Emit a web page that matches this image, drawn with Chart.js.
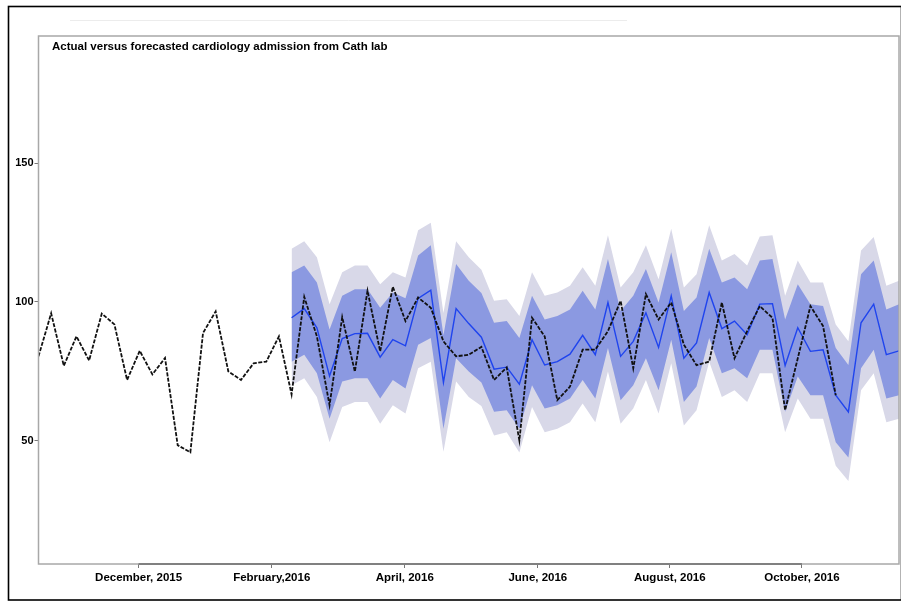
<!DOCTYPE html>
<html>
<head>
<meta charset="utf-8">
<title>Actual versus forecasted cardiology admission from Cath lab</title>
<script src="https://cdn.jsdelivr.net/npm/chart.js@4.4.0/dist/chart.umd.min.js"></script>
<style>
  html, body { margin: 0; padding: 0; background: #fff; }
  canvas { display: block; }
</style>
</head>
<body>
<canvas id="cathChart" width="901" height="602"></canvas>
<script>
// ===== data (index = period number, forecast starts at period 20) =====
const chartTitle = "Actual versus forecasted cardiology admission from Cath lab";

const monthLabels = ["December, 2015", "February,2016", "April, 2016", "June, 2016", "August, 2016", "October, 2016"];
const monthTickPos = [7.91, 18.43, 28.94, 39.46, 49.89, 60.33];
const yTickValues = [50, 100, 150];

const actualStart = 0;
const actualValues = [
  80.4, 95.9, 77.0, 87.6, 78.9, 95.8, 91.9, 71.9, 82.4, 73.9,
  79.8, 48.4, 45.8, 88.8, 96.6, 75.0, 71.9, 77.9, 78.5, 87.6,
  66.7, 101.8, 87.6, 62.8, 94.5, 74.9, 104.0, 82.2, 105.5, 93.1,
  101.6, 97.9, 85.8, 80.4, 81.0, 83.8, 71.9, 76.4, 50.1, 94.3,
  87.6, 64.6, 69.5, 82.8, 82.8, 89.5, 100.4, 76.1, 102.8, 93.7,
  99.8, 84.6, 77.2, 78.5, 99.8, 79.7, 89.5, 98.5, 94.3, 61.0,
  79.7, 98.5, 91.3, 66.4
];

const forecastStart = 20;
const forecastValues = [
  94.3, 97.6, 90.7, 73.3, 86.8, 88.6, 88.7, 80.1, 86.4, 84.2,
  101.3, 104.2, 71.0, 97.6, 92.2, 87.3, 75.8, 76.5, 70.4, 86.4,
  77.3, 78.5, 81.2, 88.0, 81.0, 99.8, 80.4, 85.8, 96.1, 83.6,
  102.2, 79.7, 85.2, 103.4, 90.4, 93.1, 88.2, 99.2, 99.4, 77.1,
  90.7, 82.2, 82.8, 66.4, 60.4, 92.5, 99.2, 81.0, 82.4
];
const upper80 = [
  110.7, 113.1, 107.0, 90.1, 102.2, 104.6, 104.6, 97.9, 103.4, 101.3,
  116.7, 120.4, 88.0, 113.7, 107.6, 103.2, 92.5, 93.1, 87.0, 102.2,
  93.7, 94.9, 97.3, 104.0, 97.3, 115.5, 96.7, 102.2, 111.9, 99.8,
  117.9, 96.7, 101.6, 119.2, 107.0, 108.8, 104.6, 114.9, 115.5, 93.7,
  106.4, 99.2, 98.5, 83.4, 77.3, 110.0, 114.9, 97.3, 99.2
];
const lower80 = [
  78.5, 81.0, 74.3, 57.9, 71.3, 72.5, 72.5, 65.2, 71.9, 68.8,
  84.6, 87.0, 54.3, 79.7, 74.9, 71.0, 60.4, 61.0, 54.3, 70.0,
  61.6, 62.8, 65.2, 71.9, 65.2, 83.4, 64.6, 70.0, 79.7, 68.2,
  86.4, 64.0, 69.5, 87.0, 74.3, 76.1, 72.5, 82.8, 82.8, 60.4,
  73.1, 66.4, 66.4, 49.5, 44.0, 76.1, 82.8, 65.2, 66.4
];
const upper95 = [
  119.2, 121.9, 116.1, 99.2, 110.7, 113.1, 113.1, 106.4, 110.7, 108.8,
  125.8, 128.5, 96.0, 121.9, 116.1, 111.6, 100.4, 101.0, 94.9, 110.7,
  102.2, 103.4, 105.8, 112.5, 105.8, 124.0, 105.2, 110.7, 120.4, 108.2,
  126.4, 105.2, 110.0, 127.6, 114.9, 117.3, 113.1, 123.6, 124.0, 102.2,
  114.9, 107.0, 107.0, 91.9, 85.8, 118.5, 123.4, 105.8, 107.6
];
const lower95 = [
  70.0, 72.5, 65.8, 49.5, 62.2, 64.0, 64.0, 56.1, 62.8, 59.8,
  76.1, 78.5, 46.0, 71.3, 65.8, 62.5, 51.9, 53.1, 45.8, 62.2,
  53.1, 54.3, 56.7, 63.4, 56.7, 74.9, 56.1, 61.6, 71.9, 59.8,
  77.9, 55.5, 61.0, 78.5, 65.8, 68.2, 64.0, 74.3, 74.3, 53.1,
  65.2, 57.9, 57.9, 41.0, 35.5, 68.2, 74.3, 56.7, 57.9
];

// ===== helpers =====
function toPoints(values, start) {
  return values.map((v, i) => ({ x: start + i, y: v }));
}

const FONT = '"Liberation Sans", Arial, Helvetica, sans-serif';

// frame, outer border and title drawn on the canvas
const framePlugin = {
  id: "framePlugin",
  beforeDraw(chart) {
    const c = chart.ctx;
    c.save();
    c.fillStyle = "#fff";
    c.fillRect(0, 0, chart.width, chart.height);
    // outer black border
    c.strokeStyle = "#000";
    c.lineWidth = 1.6;
    c.strokeRect(8.5, 6.5, 893, 593.5);
    // faint line near the top
    c.strokeStyle = "#ececec";
    c.lineWidth = 1;
    c.beginPath();
    c.moveTo(70, 20.5);
    c.lineTo(627, 20.5);
    c.stroke();
    c.restore();
  },
  afterDraw(chart) {
    const c = chart.ctx;
    const a = chart.chartArea;
    c.save();
    c.strokeStyle = "#a8a8a8";
    c.lineWidth = 1.5;
    c.strokeRect(a.left, a.top, a.right - a.left, a.bottom - a.top);
    // darker axis segment between the outer month ticks
    const xs = chart.scales.x;
    c.strokeStyle = "#808080";
    c.lineWidth = 2;
    c.beginPath();
    c.moveTo(xs.getPixelForValue(monthTickPos[0]), a.bottom);
    c.lineTo(xs.getPixelForValue(monthTickPos[monthTickPos.length - 1]), a.bottom);
    c.stroke();
    // title inside the plot
    c.fillStyle = "#000";
    c.font = "bold 11.5px " + FONT;
    c.textBaseline = "middle";
    c.textAlign = "left";
    c.fillText(chartTitle, 52, 47);
    c.restore();
  },
};

new Chart(document.getElementById("cathChart").getContext("2d"), {
  type: "line",
  data: {
    datasets: [
      {
        label: "Actual",
        data: toPoints(actualValues, actualStart),
        borderColor: "#111",
        borderWidth: 1.8,
        borderDash: [4, 1.5],
        pointRadius: 0,
        fill: false,
        tension: 0,
        order: 0,
      },
      {
        label: "Forecast",
        data: toPoints(forecastValues, forecastStart),
        borderColor: "#1f44ee",
        borderWidth: 1.4,
        pointRadius: 0,
        fill: false,
        tension: 0,
        order: 1,
      },
      {
        label: "80% upper",
        data: toPoints(upper80, forecastStart),
        borderWidth: 0,
        borderColor: "rgba(0,0,0,0)",
        backgroundColor: "rgb(139,153,225)",
        pointRadius: 0,
        fill: 3,
        tension: 0,
        order: 2,
      },
      {
        label: "80% lower",
        data: toPoints(lower80, forecastStart),
        borderWidth: 0,
        borderColor: "rgba(0,0,0,0)",
        pointRadius: 0,
        fill: false,
        tension: 0,
        order: 2,
      },
      {
        label: "95% upper",
        data: toPoints(upper95, forecastStart),
        borderWidth: 0,
        borderColor: "rgba(0,0,0,0)",
        backgroundColor: "rgb(216,216,232)",
        pointRadius: 0,
        fill: 5,
        tension: 0,
        order: 3,
      },
      {
        label: "95% lower",
        data: toPoints(lower95, forecastStart),
        borderWidth: 0,
        borderColor: "rgba(0,0,0,0)",
        pointRadius: 0,
        fill: false,
        tension: 0,
        order: 3,
      },
    ],
  },
  options: {
    responsive: false,
    animation: false,
    devicePixelRatio: 1,
    layout: { padding: { left: 0, right: 2, top: 36, bottom: 0 } },
    plugins: {
      legend: { display: false },
      title: { display: false },
      tooltip: { enabled: false },
    },
    scales: {
      x: {
        type: "linear",
        min: 0,
        max: 68,
        afterBuildTicks: (scale) => {
          scale.ticks = monthTickPos.map((v) => ({ value: v }));
        },
        afterFit: (scale) => {
          scale.height = 38;
        },
        ticks: {
          autoSkip: false,
          maxRotation: 0,
          padding: 3,
          color: "#000",
          font: { family: FONT, size: 11.5, weight: "bold" },
          callback: (value, index) => monthLabels[index],
        },
        grid: { drawOnChartArea: false, tickLength: 4, color: "#777", lineWidth: 1 },
        border: { display: false },
      },
      y: {
        type: "linear",
        min: 5.6,
        max: 195.8,
        afterBuildTicks: (scale) => {
          scale.ticks = yTickValues.map((v) => ({ value: v }));
        },
        afterFit: (scale) => {
          scale.width = 38.5;
        },
        ticks: {
          padding: 1,
          color: "#000",
          font: { family: FONT, size: 11, weight: "bold" },
        },
        grid: { drawOnChartArea: false, tickLength: 4, color: "#777", lineWidth: 1 },
        border: { display: false },
      },
    },
  },
  plugins: [framePlugin],
});
</script>
</body>
</html>
